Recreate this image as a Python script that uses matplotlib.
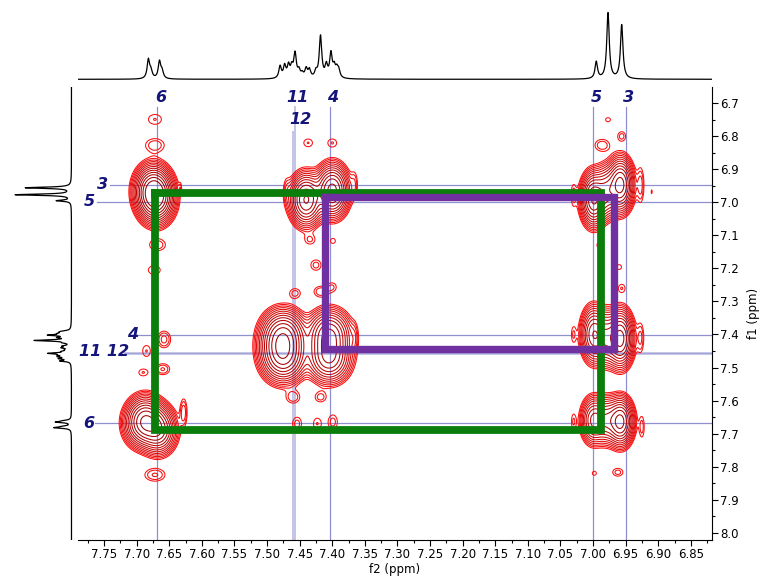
import numpy as np
import matplotlib
matplotlib.use("Agg")
import matplotlib.pyplot as plt
from matplotlib.ticker import MultipleLocator, FormatStrFormatter

# --- 1D proton trace: line positions (ppm) and intensities ---
h1_ppm = [7.682, 7.678, 7.665, 7.661,
          7.480, 7.473, 7.467, 7.462, 7.457, 7.451, 7.446, 7.440, 7.435,
          7.425, 7.418, 7.409, 7.402, 7.397, 7.393, 7.390,
          6.995, 6.977, 6.956]
h1_int = [19, 7, 17, 7,
          12, 12, 12, 10, 24, 7, 4, 9, 8,
          6, 42, 12, 24, 10, 8, 7,
          17, 66, 54]

# --- COSY: main cross / diagonal peak lobes (f2, f1, amplitude, widths) ---
lobe_f2 = [7.675, 7.670, 7.672,
           7.686, 7.667, 7.696,
           7.440, 7.400,
           7.475, 7.475, 7.405, 7.405, 7.478,
           6.999, 6.958, 6.979,
           6.999, 6.958, 6.979,
           6.999, 6.958, 6.979]
lobe_f1 = [6.962, 6.992, 6.975,
           7.662, 7.688, 7.670,
           6.992, 6.965,
           7.400, 7.470, 7.400, 7.470, 7.435,
           6.990, 6.947, 6.968,
           7.400, 7.412, 7.410,
           7.660, 7.664, 7.660]
lobe_amp = [1.0, 0.8, 0.5,
            1.0, 0.8, 0.3,
            0.9, 1.0,
            0.8, 0.8, 0.65, 0.65, 0.5,
            0.9, 1.0, 0.45,
            0.6, 1.0, 0.4,
            0.5, 1.0, 0.4]
lobe_w2 = [0.013] * 6 + [0.012] * 2 + [0.016] * 5 + [0.0095] * 9
lobe_w1 = [0.035] * 3 + [0.034] * 3 + [0.037] * 2 + [0.036] * 5 + [0.038] * 3 + [0.040] * 3 + [0.034] * 3

# --- COSY: weak artefact / satellite peaks ---
weak_f2 = [7.672, 7.672, 7.668, 7.673, 7.633, 7.658, 7.685, 7.660, 7.690, 7.628, 7.672,
           7.437, 7.400, 7.434, 7.399, 7.470, 7.366, 7.425, 7.457, 7.418, 7.400,
           7.460, 7.418, 7.454, 7.423, 7.399, 7.366,
           6.977, 6.986, 6.956, 6.990, 6.960, 6.956, 7.030, 6.927, 6.910,
           6.927, 7.030, 7.030, 6.925, 6.998, 6.962]
weak_f1 = [6.749, 6.827, 7.129, 7.205, 6.956, 7.415, 7.450, 7.505, 7.515, 7.635, 7.825,
           6.820, 6.820, 7.114, 7.117, 6.965, 6.945, 7.190, 7.275, 7.270, 7.256,
           7.590, 7.590, 7.670, 7.670, 7.665, 7.410,
           6.750, 6.827, 6.800, 7.130, 7.196, 7.260, 6.978, 6.948, 6.968,
           7.410, 7.400, 7.664, 7.680, 7.820, 7.817]
weak_amp = [0.035, 0.045, 0.045, 0.035, 0.03, 0.055, 0.035, 0.05, 0.035, 0.06, 0.05,
            0.035, 0.035, 0.035, 0.03, 0.035, 0.04, 0.04, 0.04, 0.045, 0.035,
            0.045, 0.04, 0.04, 0.035, 0.04, 0.04,
            0.03, 0.045, 0.04, 0.03, 0.03, 0.035, 0.04, 0.055, 0.028,
            0.05, 0.035, 0.035, 0.04, 0.03, 0.04]
weak_w2 = [0.012, 0.013, 0.011, 0.011, 0.0015, 0.008, 0.007, 0.009, 0.008, 0.004, 0.013,
           0.008, 0.008, 0.008, 0.006, 0.004, 0.004, 0.008, 0.008, 0.009, 0.007,
           0.009, 0.008, 0.007, 0.007, 0.007, 0.004,
           0.006, 0.010, 0.006, 0.006, 0.006, 0.006, 0.0035, 0.004, 0.0015,
           0.004, 0.0035, 0.0035, 0.0035, 0.005, 0.008]
weak_w1 = [0.018, 0.018, 0.016, 0.016, 0.012, 0.020, 0.020, 0.014, 0.012, 0.030, 0.016,
           0.014, 0.014, 0.014, 0.012, 0.030, 0.030, 0.016, 0.014, 0.014, 0.014,
           0.016, 0.014, 0.020, 0.020, 0.022, 0.030,
           0.010, 0.016, 0.014, 0.012, 0.012, 0.014, 0.030, 0.040, 0.012,
           0.035, 0.025, 0.025, 0.030, 0.010, 0.012]

# --- assignments: guide lines and labels ---
f2_guides = {"6": 7.669, "11": 7.457, "12": 7.460, "4": 7.404, "5": 7.000, "3": 6.949}
f1_guides = {"3": 6.947, "5": 7.000, "4": 7.403, "11": 7.455, "12": 7.458, "6": 7.669}

# coupling boxes (f2 left, f2 right, f1 top, f1 bottom)
green_box = (7.672, 6.987, 6.973, 7.689)
purple_box = (7.411, 6.968, 6.984, 7.445)

XLIM = (7.790, 6.8175)
YLIM = (8.022, 6.651)
LABEL_COLOR = "#14147a"
GUIDE_COLOR = "#7c7cc8"

fig = plt.figure(figsize=(7.64, 5.78), dpi=100)
ax = fig.add_axes([78 / 764, 38 / 578, 634 / 764, 453 / 578])
ax_top = fig.add_axes([78 / 764, 491 / 578, 634 / 764, 87 / 578])
ax_left = fig.add_axes([0, 38 / 578, 78 / 764, 453 / 578])


def trace(grid, hw=0.0023):
    s = np.zeros_like(grid)
    for p, h in zip(h1_ppm, h1_int):
        s += h / (1 + ((grid - p) / hw) ** 2)
    return s


# 1D projections
grid = np.linspace(6.55, 8.10, 8000)
spec = trace(grid)
ax_top.plot(grid, spec, color="black", lw=0.9)
ax_top.set_xlim(*XLIM)
ax_top.set_ylim(-7.7, 79.3)
ax_top.axis("off")

ax_left.plot(spec * 0.92, grid, color="black", lw=0.9)
ax_left.set_ylim(*YLIM)
ax_left.set_xlim(77.9, -7.08)
ax_left.axis("off")

# 2D field
f2 = np.linspace(6.80, 7.80, 1600)
f1 = np.linspace(6.64, 8.03, 1400)
Z = np.zeros((f1.size, f2.size))
for groups in [(lobe_f2, lobe_f1, lobe_amp, lobe_w2, lobe_w1),
               (weak_f2, weak_f1, weak_amp, weak_w2, weak_w1)]:
    for x0, y0, a, sx, sy in zip(*groups):
        gx = np.exp(-0.5 * ((f2 - x0) / sx) ** 2)
        gy = np.exp(-0.5 * ((f1 - y0) / sy) ** 2)
        Z += a * np.outer(gy, gx)

levels = 0.025 * 1.38 ** np.arange(13)
cols = [(1.0 - 0.4 * t, 0.05 * (1 - t), 0.05 * (1 - t)) for t in np.linspace(0, 1, len(levels))]

# guide lines
for name, p in f2_guides.items():
    y0 = 6.786 if name == "12" else 6.712
    lw = 1.4 if name in ("11", "12") else 0.9
    al = 0.45 if name in ("11", "12") else 0.85
    ax.plot([p, p], [y0, YLIM[0]], color=GUIDE_COLOR, lw=lw, alpha=al, zorder=1)
f1_start = {"3": 7.741, "5": 7.761, "4": 7.698, "11": 7.718, "12": 7.718, "6": 7.764}
for name, p in f1_guides.items():
    lw = 1.4 if name in ("11", "12") else 0.9
    al = 0.45 if name in ("11", "12") else 0.85
    ax.plot([f1_start[name], XLIM[1]], [p, p], color=GUIDE_COLOR, lw=lw, alpha=al, zorder=1)

X, Y = np.meshgrid(f2, f1)
ax.contour(X, Y, Z, levels=levels, colors=cols, linewidths=0.75, zorder=2)

# coupling boxes
for box, c, lw in [(green_box, "#0a7d0a", 5.6), (purple_box, "#7030a0", 5.3)]:
    xl, xr, yt, yb = box
    ax.plot([xl, xr, xr, xl, xl], [yt, yt, yb, yb, yt], color=c, lw=lw,
            solid_joinstyle="miter", solid_capstyle="projecting", zorder=4)

# assignment labels
lab = dict(color=LABEL_COLOR, fontsize=11.5, fontweight="bold", fontstyle="italic",
           ha="center", va="center", zorder=5)
top_labels = [("6", 7.663, 6.683), ("11", 7.454, 6.683), ("12", 7.449, 6.750),
              ("4", 7.399, 6.683), ("5", 6.995, 6.683), ("3", 6.945, 6.683)]
left_labels = [("3", 7.752, 6.945), ("5", 7.773, 6.999), ("4", 7.706, 7.401),
               ("11 12", 7.750, 7.453), ("6", 7.773, 7.669)]
for t, x, y in top_labels + left_labels:
    ax.text(x, y, t, **lab)

ax.set_xlim(*XLIM)
ax.set_ylim(*YLIM)
ax.spines["left"].set_visible(False)
ax.spines["top"].set_visible(False)
ax.yaxis.tick_right()
ax.yaxis.set_label_position("right")
ax.xaxis.set_major_locator(MultipleLocator(0.05))
ax.xaxis.set_minor_locator(MultipleLocator(0.025))
ax.yaxis.set_major_locator(MultipleLocator(0.1))
ax.yaxis.set_minor_locator(MultipleLocator(0.05))
ax.xaxis.set_major_formatter(FormatStrFormatter("%.2f"))
ax.yaxis.set_major_formatter(FormatStrFormatter("%.1f"))
ax.tick_params(which="major", length=4, width=0.8, labelsize=8.5, pad=2)
ax.tick_params(which="minor", length=2.5, width=0.8)
ax.set_xlabel("f2 (ppm)", fontsize=8.5, labelpad=1)
ax.set_ylabel("f1 (ppm)", fontsize=8.5, labelpad=6)

fig.savefig("out.png", dpi=100)
